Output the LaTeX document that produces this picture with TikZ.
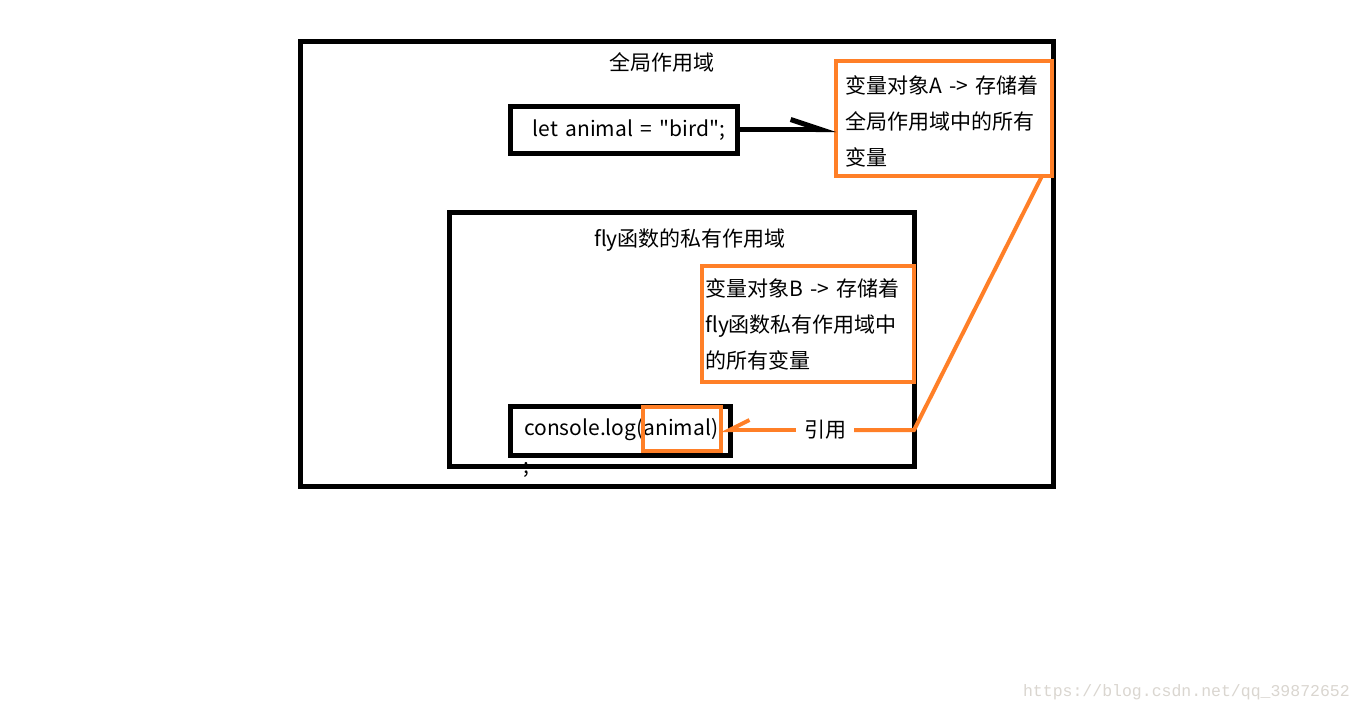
\documentclass[tikz,border=0pt]{standalone}
\usepackage{fontspec}
\setmainfont{Noto Sans CJK SC}[Ligatures=TeXOff, WordSpace=1.6]
\newfontfamily\wmfont{Liberation Mono}
\usetikzlibrary{arrows.meta}
\definecolor{orng}{RGB}{255,127,39}
\definecolor{wmgray}{RGB}{218,214,208}

\begin{document}
\begin{tikzpicture}[x=1pt, y=-1pt, box/.style = {shape=rectangle, draw, line width=5pt, anchor=north west, inner sep=0pt, outer sep=0pt}, objbox/.style = {shape=rectangle, draw=orng, line width=4pt, anchor=north west, inner sep=0pt, outer sep=0pt}, txt/.style = {font=\fontsize{21}{36}\selectfont, inner sep=0pt}, link/.style = {draw=orng, line width=4pt}]
	\useasboundingbox[fill=white] (0,0) rectangle (1360,712);
	% scopes
	\node[box, minimum width=753, minimum height=445] (globalBox) at (300,41) {};
	\node[txt] (globalTitle) at (662,62) {全局作用域};
	\node[box, minimum width=227, minimum height=47] (letBox) at (510,106) {};
	\node[txt] (letCode) at (629,130) {let animal = "bird";};
	\node[box, minimum width=465, minimum height=254] (flyBox) at (449,212) {};
	\node[txt] (flyTitle) at (690,240) {fly函数的私有作用域};
	\node[box, minimum width=220, minimum height=49] (logBox) at (510,406) {};
	\node[txt, anchor=west] (logCode) at (524,430) {console.log(animal)};
	\node[txt] (semi) at (526,470) {;};
	% variable objects
	\node[objbox, minimum width=212, minimum height=116] (objB) at (702,266) {};
	\node[txt, anchor=west, align=left] (txtB) at (705,324) {变量对象B -> 存储着\\fly函数私有作用域中\\的所有变量};
	\node[objbox, minimum width=216, minimum height=115] (objA) at (836,61) {};
	\node[txt, anchor=west, align=left] (txtA) at (845,121) {变量对象A -> 存储着\\全局作用域中的所有\\变量};
	\node[objbox, minimum width=78, minimum height=44] (hilite) at (643,407) {};
	% links
	\node[txt, inner xsep=8pt] (refLabel) at (825,430) {引用};
	\draw[line width=5pt, -{Straight Barb[harpoon, length=30pt, width=20pt]}] (letBox.east) -- (objA.west |- letBox.east);
	\draw[link, -{Straight Barb[harpoon, swap, length=20pt, width=20pt]}] (refLabel.west) -- (hilite.east |- refLabel.west);
	\coordinate (bend) at (flyBox.east |- refLabel.east);
	\draw[link] (refLabel.east) -- (bend) -- ([xshift=-10pt]objA.south east);
	\node[anchor=east, text=wmgray, font=\wmfont\fontsize{16.5}{20}\selectfont, inner sep=0pt] (wmark) at (1350,692) {https://blog.csdn.net/qq\_39872652};
\end{tikzpicture}
\end{document}
